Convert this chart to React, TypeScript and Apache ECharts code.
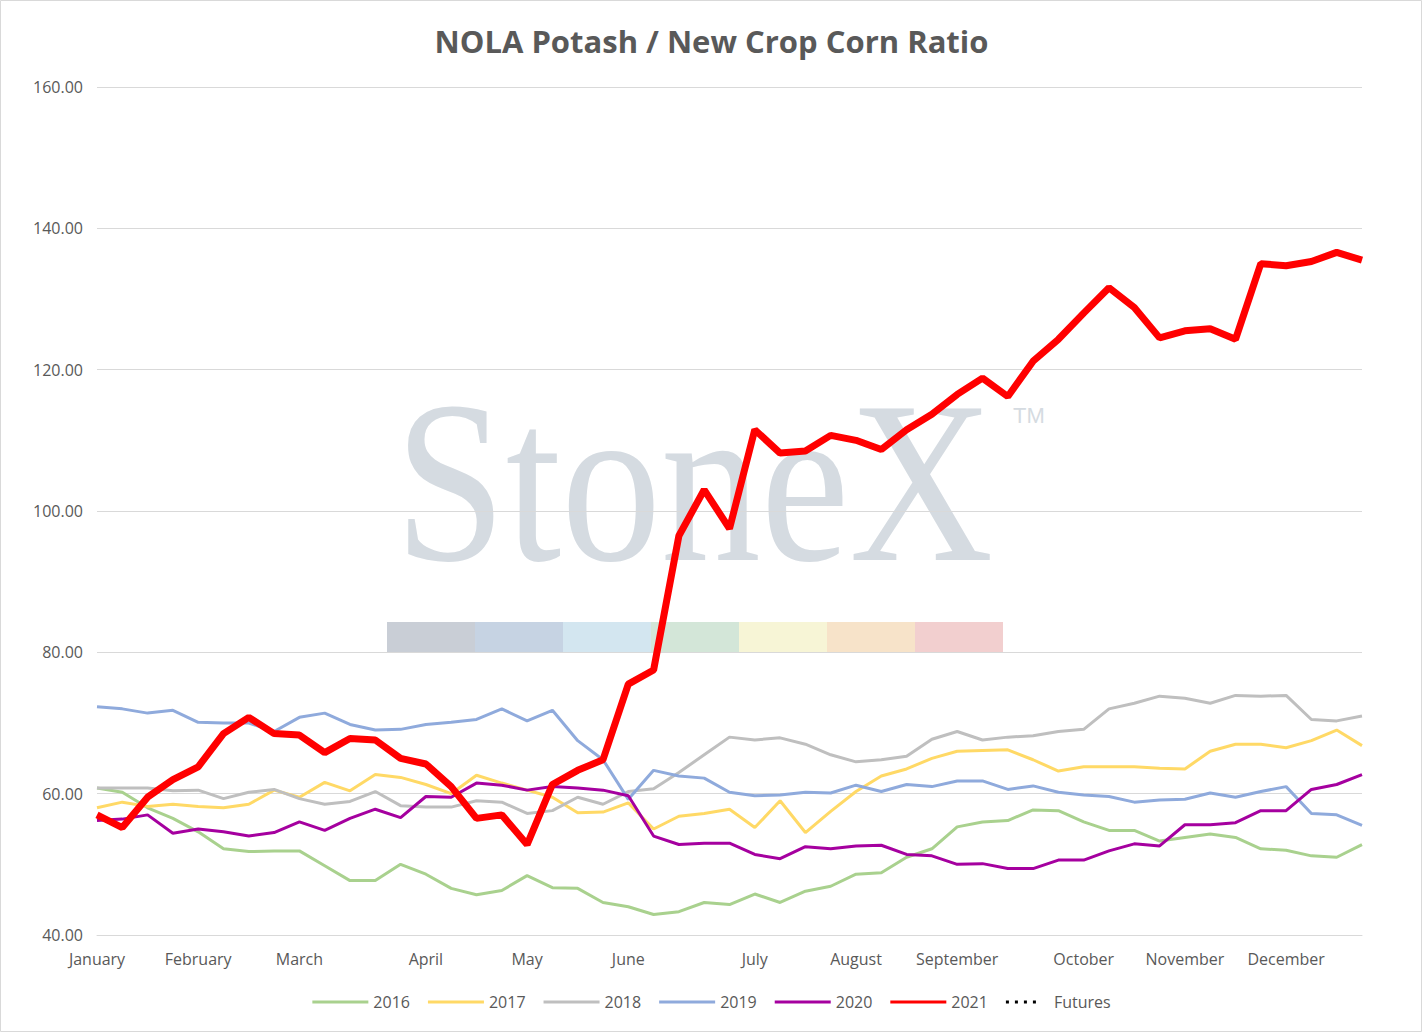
import React, { useEffect, useRef } from "react";
import * as echarts from "echarts";

const weeks = Array.from({ length: 51 }, (_, i) => String(i));
const monthLabels: Record<number, string> = { 0: "January", 4: "February", 8: "March", 13: "April", 17: "May", 21: "June", 26: "July", 30: "August", 34: "September", 39: "October", 43: "November", 47: "December" };

const s2016 = [60.8, 60.2, 58, 56.5, 54.6, 52.2, 51.8, 51.9, 51.9, 49.8, 47.7, 47.7, 50, 48.6, 46.6, 45.7, 46.3, 48.4, 46.7, 46.6, 44.6, 44, 42.9, 43.3, 44.6, 44.3, 45.8, 44.6, 46.2, 46.9, 48.6, 48.8, 51, 52.2, 55.3, 56, 56.2, 57.7, 57.6, 56, 54.8, 54.8, 53.3, 53.8, 54.3, 53.8, 52.2, 52, 51.2, 51, 52.8];
const s2017 = [58, 58.8, 58.2, 58.5, 58.2, 58, 58.5, 60.5, 59.5, 61.6, 60.4, 62.7, 62.3, 61.3, 60, 62.6, 61.5, 60.5, 59.5, 57.3, 57.4, 58.7, 55, 56.8, 57.2, 57.8, 55.2, 59, 54.5, 57.5, 60.3, 62.5, 63.5, 65, 66, 66.1, 66.2, 64.8, 63.2, 63.8, 63.8, 63.8, 63.6, 63.5, 66, 67, 67, 66.5, 67.5, 69, 66.8];
const s2018 = [60.8, 60.8, 60.8, 60.4, 60.5, 59.3, 60.2, 60.6, 59.3, 58.5, 58.9, 60.3, 58.3, 58.1, 58.1, 59, 58.8, 57.2, 57.6, 59.5, 58.5, 60.3, 60.7, 63, 65.5, 68, 67.6, 67.9, 67, 65.5, 64.5, 64.8, 65.3, 67.7, 68.8, 67.6, 68, 68.2, 68.8, 69.1, 72, 72.8, 73.8, 73.5, 72.8, 73.9, 73.8, 73.9, 70.5, 70.3, 71];
const s2019 = [72.3, 72, 71.4, 71.8, 70.1, 70, 70, 68.8, 70.8, 71.4, 69.8, 69, 69.1, 69.8, 70.1, 70.5, 72, 70.3, 71.8, 67.5, 64.8, 59.2, 63.3, 62.5, 62.2, 60.2, 59.7, 59.8, 60.2, 60.1, 61.2, 60.3, 61.3, 61, 61.8, 61.8, 60.6, 61.1, 60.2, 59.8, 59.6, 58.8, 59.1, 59.2, 60.1, 59.5, 60.3, 61, 57.2, 57, 55.5];
const s2020 = [56.2, 56.4, 57, 54.4, 55, 54.6, 54, 54.5, 56, 54.8, 56.5, 57.8, 56.6, 59.6, 59.5, 61.5, 61.2, 60.5, 61, 60.8, 60.5, 59.7, 54, 52.8, 53, 53, 51.4, 50.8, 52.5, 52.2, 52.6, 52.7, 51.4, 51.2, 50, 50.1, 49.4, 49.4, 50.6, 50.6, 51.9, 52.9, 52.6, 55.6, 55.6, 55.9, 57.6, 57.6, 60.6, 61.3, 62.7];
const s2021 = [57, 55.2, 59.5, 62, 63.8, 68.5, 70.8, 68.5, 68.3, 65.8, 67.8, 67.6, 65, 64.2, 61, 56.5, 57, 52.8, 61.3, 63.3, 64.8, 75.5, 77.5, 96.5, 103, 97.5, 111.5, 108.2, 108.5, 110.7, 110, 108.7, 111.5, 113.7, 116.5, 118.8, 116.2, 121.2, 124.3, 128, 131.6, 128.8, 124.5, 125.5, 125.8, 124.3, 135, 134.7, 135.3, 136.6, 135.5];
const futures: number[] = [];

const watermarkColors = ["#c9ced6", "#c6d3e3", "#d3e6f0", "#d3e6d8", "#f7f5d6", "#f7e3c9", "#f2cfcf"];

export default function App() {
  const ref = useRef<HTMLDivElement>(null);
  useEffect(() => {
    const chart = echarts.init(ref.current!, null, { renderer: "svg" });
    const mk = (name: string, data: number[], color: string, width = 3) => ({
      name, type: "line", data, symbol: "none", lineStyle: { color, width }, itemStyle: { color }, z: name === "2021" ? 5 : 3,
    });
    chart.setOption({
      animation: false,
      backgroundColor: "#fff",
      title: { text: "NOLA Potash / New Crop Corn Ratio", left: "center", top: 20, textStyle: { color: "#595959", fontSize: 31, fontWeight: "bold", fontFamily: "Open Sans" } },
      graphic: [
        { type: "rect", shape: { x: 0.5, y: 0.5, width: 1421, height: 1031 }, style: { fill: "none", stroke: "#d9d9d9" }, silent: true },
        { type: "text", x: 694, y: 482, scaleX: 0.86, z: -1, style: { text: "StoneX", fontSize: 232, fontFamily: "Liberation Serif", fill: "#d5dbe1", textAlign: "center", textVerticalAlign: "middle" } },
        { type: "text", x: 1013, y: 404, z: -1, style: { text: "TM", fontSize: 22, fontFamily: "Liberation Sans", fill: "#d5dbe1" } },
        ...watermarkColors.map((c, i) => ({ type: "rect", z: -1, shape: { x: 387 + i * 88, y: 622, width: 88, height: 30 }, style: { fill: c } })),
      ],
      grid: { left: 97, right: 61, top: 87, bottom: 98 },
      legend: {
        bottom: 18, itemWidth: 56, itemHeight: 3, itemGap: 18, icon: "rect",
        textStyle: { color: "#595959", fontSize: 16, fontFamily: "Open Sans" },
        data: ["2016", "2017", "2018", "2019", "2020", "2021", { name: "Futures", icon: "path://M0,0h2v2h-2zM6,0h2v2h-2zM12,0h2v2h-2zM18,0h2v2h-2z", itemStyle: { color: "#000" } }],
      },
      xAxis: {
        type: "category", data: weeks, boundaryGap: false,
        axisLine: { lineStyle: { color: "#d9d9d9" } }, axisTick: { show: false },
        axisLabel: { interval: (i: number) => monthLabels[i] !== undefined, formatter: (v: string) => monthLabels[Number(v)] ?? "", color: "#595959", fontSize: 16, fontFamily: "Open Sans", margin: 16 },
      },
      yAxis: {
        type: "value", min: 40, max: 160, interval: 20,
        axisLabel: { formatter: (v: number) => v.toFixed(2), color: "#595959", fontSize: 16, fontFamily: "Open Sans", margin: 14 },
        splitLine: { lineStyle: { color: "#d9d9d9" } },
      },
      series: [
        mk("2016", s2016, "#a9d18e"),
        mk("2017", s2017, "#ffd966"),
        mk("2018", s2018, "#bfbfbf"),
        mk("2019", s2019, "#8faadc"),
        mk("2020", s2020, "#a5009f"),
        mk("2021", s2021, "#ff0000", 7),
        { name: "Futures", type: "line", data: futures, symbol: "none", lineStyle: { color: "#000", type: "dotted", width: 4 }, itemStyle: { color: "#000" } },
      ],
    });
    return () => chart.dispose();
  }, []);
  return <div ref={ref} style={{ position: "absolute", left: 0, top: 0, width: 1423, height: 1033 }} />;
}
